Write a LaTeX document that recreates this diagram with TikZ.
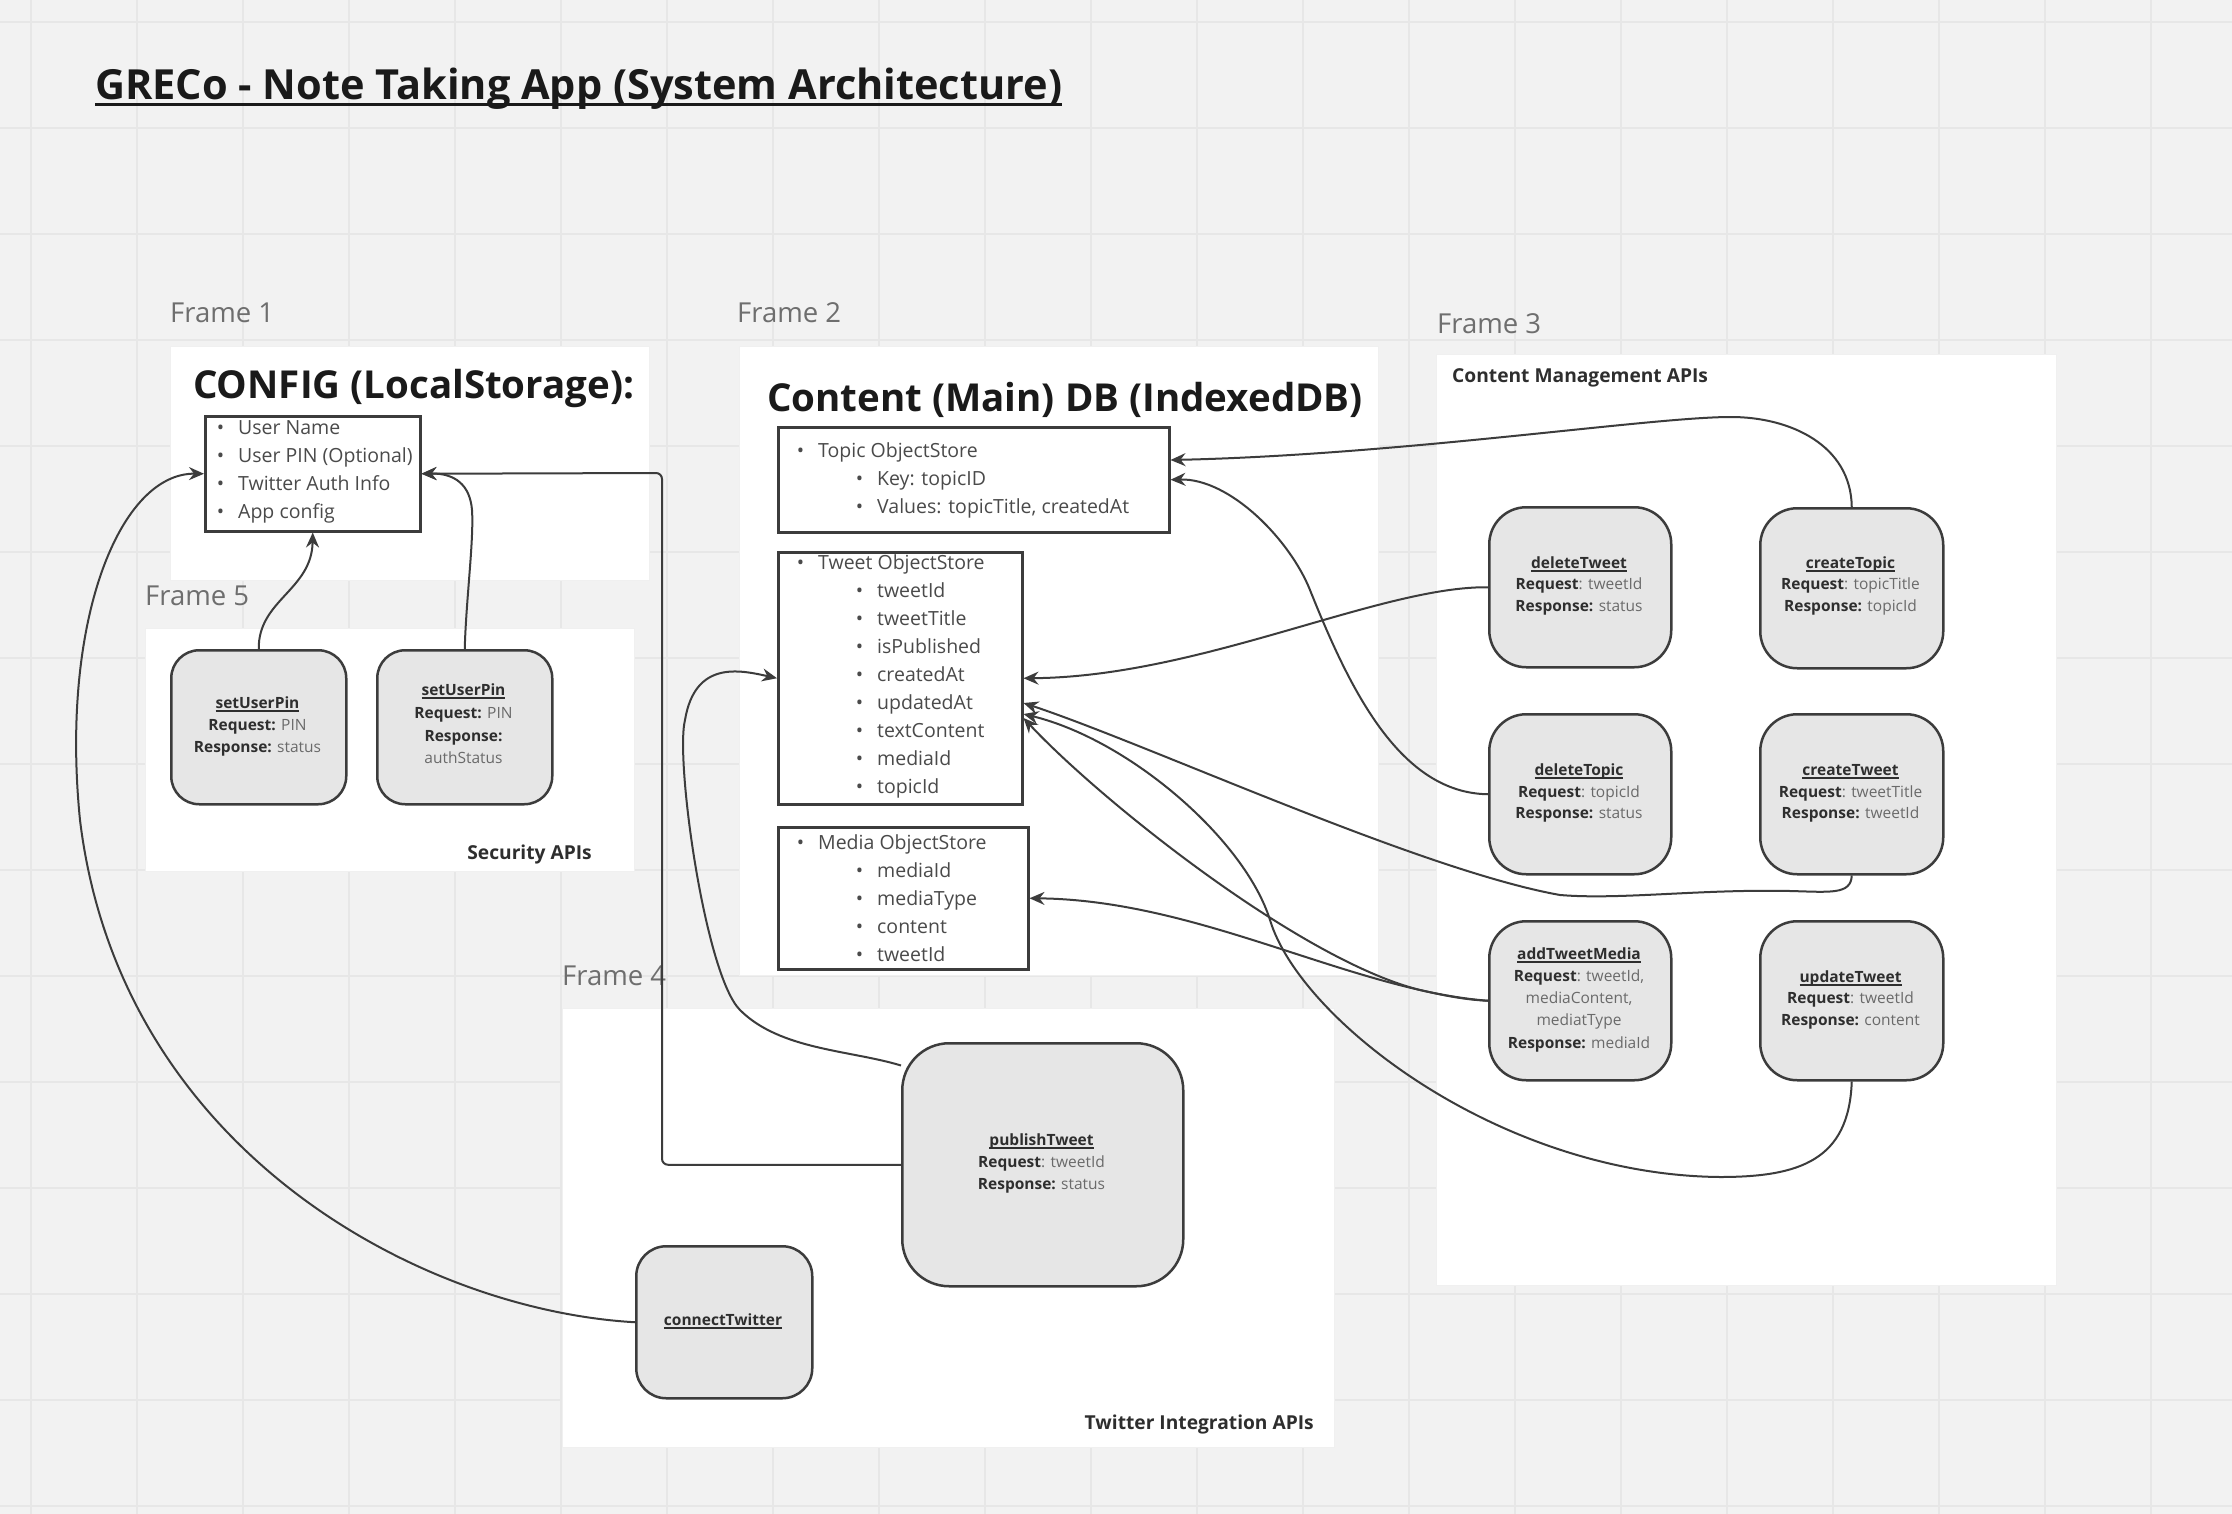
\documentclass[tikz,border=0pt]{standalone}
\usepackage{fontspec}
\setmainfont{Open Sans}
\usetikzlibrary{arrows.meta}
\definecolor{bgc}{HTML}{F2F2F2}
\definecolor{gridc}{HTML}{E7E7E7}
\definecolor{linedark}{HTML}{3C3C3C}
\definecolor{apigray}{HTML}{E6E6E6}
\definecolor{headblack}{HTML}{1A1A1A}
\definecolor{labelgray}{HTML}{6E6E6E}
\definecolor{itemgray}{HTML}{4A4A4A}
\definecolor{valgray}{HTML}{6A6A6A}
\definecolor{labdark}{HTML}{2E2E2E}
\newcommand{\myul}[3]{\setbox0=\hbox{#3}\rlap{\rule[#1]{\wd0}{#2}}\box0}
\newcommand{\mybul}{\llap{\textbullet\hspace{14pt}}}
\newcommand{\mytitle}[1]{{\color{labdark}\myul{-3.5pt}{1.6pt}{\textbf{#1}}}}
\newcommand{\mylab}[1]{{\color{labdark}\textbf{#1}}}
\tikzset{
  frame/.style={fill=white, draw=black!6, line width=1pt, anchor=north west, inner sep=0},
  framelabel/.style={anchor=base west, inner sep=0, text=labelgray, font=\fontsize{27.5}{32}\selectfont},
  heading/.style={anchor=base west, inner sep=0, text=headblack, font=\bfseries\fontsize{38.5}{44}\selectfont},
  subhead/.style={inner sep=0, text=labdark, font=\bfseries\fontsize{19.2}{23}\selectfont},
  store/.style={draw=linedark, line width=2.5pt, fill=white, inner sep=0, anchor=north west},
  item/.style={anchor=base west, inner sep=0, text=itemgray, font=\fontsize{19.5}{23}\selectfont},
  api/.style={draw=linedark, line width=2.5pt, fill=apigray, inner sep=0, anchor=north west},
  apitext/.style={anchor=base, inner sep=0, text=valgray, font=\fontsize{15.5}{19}\selectfont},
  conn/.style={draw=linedark, line width=2pt},
  arr/.style={conn, -{Stealth[length=15pt,width=13pt,inset=5pt]}},
  gridline/.style={draw=gridc, line width=2pt}
}
\begin{document}
\begin{tikzpicture}[x=1pt,y=-1pt]
\useasboundingbox (0,0) rectangle (2232,1514);
\fill[bgc] (0,0) rectangle (2232,1514);
\foreach \gx in {31,137,...,2232} \draw[gridline] (\gx,0) -- (\gx,1514);
\foreach \gy in {22,128,...,1514} \draw[gridline] (0,\gy) -- (2232,\gy);

% title
\node[anchor=base west, inner sep=0, text=headblack, font=\bfseries\fontsize{41.5}{48}\selectfont] (title) at (95,100) {\myul{-6pt}{3pt}{GRECo - Note Taking App (System Architecture)}};

% frames
\node[frame, minimum width=479, minimum height=234] (frame1) at (170,346) {};
\node[frame, minimum width=639, minimum height=629] (frame2) at (739,346) {};
\node[frame, minimum width=620, minimum height=931] (frame3) at (1436,354) {};
\node[frame, minimum width=489, minimum height=243] (frame5) at (145,628) {};
\node[frame, minimum width=772, minimum height=439] (frame4) at (562,1008) {};
\node[framelabel] (f1lab) at (170,323) {Frame 1};
\node[framelabel] (f2lab) at (737,323) {Frame 2};
\node[framelabel] (f3lab) at (1437,333) {Frame 3};
\node[framelabel] (f5lab) at (145,605) {Frame 5};
\node[framelabel] (f4lab) at (562,985) {Frame 4};

% headings
\node[heading] (cfghead) at (193,398) {CONFIG (LocalStorage):};
\node[heading] (dbhead) at (767,411) {Content (Main) DB (IndexedDB)};
\node[subhead, anchor=base west] (cmhead) at (1452,382) {Content Management APIs};
\node[subhead, anchor=base east] (sechead) at (592,859) {Security APIs};
\node[subhead, anchor=base east] (twhead) at (1314,1429) {Twitter Integration APIs};

% stores
\node[store, minimum width=215, minimum height=115] (config) at (204,415) {};
\foreach \t [count=\i from 0] in {User Name, User PIN (Optional), Twitter Auth Info, App config}
  \node[item] (cfg\i) at (238,{434+28*\i}) {\mybul\t};

\node[store, minimum width=391, minimum height=105] (topic) at (777,426) {};
\node[item] (tp0) at (818,457) {\mybul Topic ObjectStore};
\node[item] (tp1) at (877,485) {\mybul Key: topicID};
\node[item] (tp2) at (877,513) {\mybul Values: topicTitle, createdAt};

\node[store, minimum width=244, minimum height=252] (tweet) at (777,551) {};
\node[item] (tw0) at (818,569) {\mybul Tweet ObjectStore};
\foreach \t [count=\i] in {tweetId, tweetTitle, isPublished, createdAt, updatedAt, textContent, mediaId, topicId}
  \node[item] (tw\i) at (877,{569+28*\i}) {\mybul\t};

\node[store, minimum width=250, minimum height=142] (media) at (777,826) {};
\node[item] (md0) at (818,849) {\mybul Media ObjectStore};
\foreach \t [count=\i] in {mediaId, mediaType, content, tweetId}
  \node[item] (md\i) at (877,{849+28*\i}) {\mybul\t};

% security APIs
\node[api, rounded corners=28pt, minimum width=175, minimum height=154] (setUserPinA) at (170,649) {};
\node[apitext] (supa1) at (257.5,708) {\mytitle{setUserPin}};
\node[apitext] (supa2) at (257.5,730) {\mylab{Request:} PIN};
\node[apitext] (supa3) at (257.5,752) {\mylab{Response:} status};
\node[api, rounded corners=28pt, minimum width=175, minimum height=154] (setUserPinB) at (376,649) {};
\node[apitext] (supb1) at (463.5,695) {\mytitle{setUserPin}};
\node[apitext] (supb2) at (463.5,718) {\mylab{Request:} PIN};
\node[apitext] (supb3) at (463.5,741) {\mylab{Response:}};
\node[apitext] (supb4) at (463.5,763) {authStatus};

% content management APIs
\node[api, rounded corners=37pt, minimum width=182, minimum height=160] (deleteTweet) at (1488,506) {};
\node[apitext] (dtw1) at (1579,568) {\mytitle{deleteTweet}};
\node[apitext] (dtw2) at (1579,589.5) {\mylab{Request}: tweetId};
\node[apitext] (dtw3) at (1579,611) {\mylab{Response:} status};
\node[api, rounded corners=37pt, minimum width=183, minimum height=160] (createTopic) at (1759,507) {};
\node[apitext] (ctp1) at (1850.5,568) {\mytitle{createTopic}};
\node[apitext] (ctp2) at (1850.5,589.5) {\mylab{Request}: topicTitle};
\node[apitext] (ctp3) at (1850.5,611) {\mylab{Response:} topicId};
\node[api, rounded corners=37pt, minimum width=182, minimum height=160] (deleteTopic) at (1488,713) {};
\node[apitext] (dtp1) at (1579,775) {\mytitle{deleteTopic}};
\node[apitext] (dtp2) at (1579,797) {\mylab{Request}: topicId};
\node[apitext] (dtp3) at (1579,818) {\mylab{Response:} status};
\node[api, rounded corners=37pt, minimum width=183, minimum height=160] (createTweet) at (1759,713) {};
\node[apitext] (ctw1) at (1850.5,775) {\mytitle{createTweet}};
\node[apitext] (ctw2) at (1850.5,797) {\mylab{Request}: tweetTitle};
\node[apitext] (ctw3) at (1850.5,818) {\mylab{Response:} tweetId};
\node[api, rounded corners=37pt, minimum width=182, minimum height=159] (addTweetMedia) at (1488,920) {};
\node[apitext] (atm1) at (1579,959) {\mytitle{addTweetMedia}};
\node[apitext] (atm2) at (1579,981) {\mylab{Request}: tweetId,};
\node[apitext] (atm3) at (1579,1003) {mediaContent,};
\node[apitext] (atm4) at (1579,1025) {mediatType};
\node[apitext] (atm5) at (1579,1048) {\mylab{Response:} mediaId};
\node[api, rounded corners=37pt, minimum width=183, minimum height=159] (updateTweet) at (1759,920) {};
\node[apitext] (utw1) at (1850.5,982) {\mytitle{updateTweet}};
\node[apitext] (utw2) at (1850.5,1003) {\mylab{Request}: tweetId};
\node[apitext] (utw3) at (1850.5,1025) {\mylab{Response:} content};

% twitter integration APIs
\node[api, rounded corners=47pt, minimum width=281, minimum height=243] (publishTweet) at (901,1042) {};
\node[apitext] (ptw1) at (1041.5,1145) {\mytitle{publishTweet}};
\node[apitext] (ptw2) at (1041.5,1167) {\mylab{Request}: tweetId};
\node[apitext] (ptw3) at (1041.5,1189) {\mylab{Response:} status};
\node[api, rounded corners=30pt, minimum width=176, minimum height=152] (connectTwitter) at (635,1245) {};
\node[apitext] (ctt1) at (723,1325) {\mytitle{connectTwitter}};

% connectors
\draw[arr] (setUserPinA.north) .. controls (258,600) and (312,590) .. (config.south);
\draw[arr] (setUserPinB.north) .. controls (466,600) and (474,540) .. (472,510) .. controls (470,485) and (455,473) .. (config.east);
\draw[arr] (connectTwitter.west) .. controls (420,1310) and (120,1150) .. (80,820) .. controls (60,620) and (120,473) .. (config.west);
\draw[arr, rounded corners=6pt] (publishTweet.west) -| (662,473) -- (config.east);
\draw[arr] (publishTweet.145) .. controls (850,1050) and (780,1050) .. (740,1010) .. controls (705,975) and (675,760) .. (685,720) .. controls (695,660) and (740,670) .. (tweet.west);
\draw[arr] (createTopic.north) .. controls (1851,445) and (1790,417) .. (1731,417) .. controls (1650,417) and (1400,455) .. (topic.east |- 0,460);
\draw[arr] (deleteTopic.west) .. controls (1400,793) and (1350,690) .. (1310,590) .. controls (1290,540) and (1230,478) .. (topic.east);
\draw[arr] (deleteTweet.west) .. controls (1380,586) and (1200,677) .. (tweet.east);
\draw[arr] (createTweet.south) .. controls (1851,895) and (1830,892) .. (1790,891) .. controls (1700,889) and (1620,900) .. (1560,895) .. controls (1420,870) and (1150,745) .. (tweet.east |- 0,703);
\draw[arr] (addTweetMedia.west) .. controls (1470,1000) and (1450,997) .. (1420,990) .. controls (1300,960) and (1100,800) .. (tweet.east |- 0,718);
\draw[arr] (updateTweet.south) .. controls (1849,1160) and (1800,1177) .. (1720,1177) .. controls (1500,1175) and (1300,1020) .. (1270,920) .. controls (1245,840) and (1130,740) .. (tweet.east |- 0,714);
\draw[arr] (addTweetMedia.west) .. controls (1350,990) and (1200,900) .. (media.east);
\end{tikzpicture}
\end{document}
